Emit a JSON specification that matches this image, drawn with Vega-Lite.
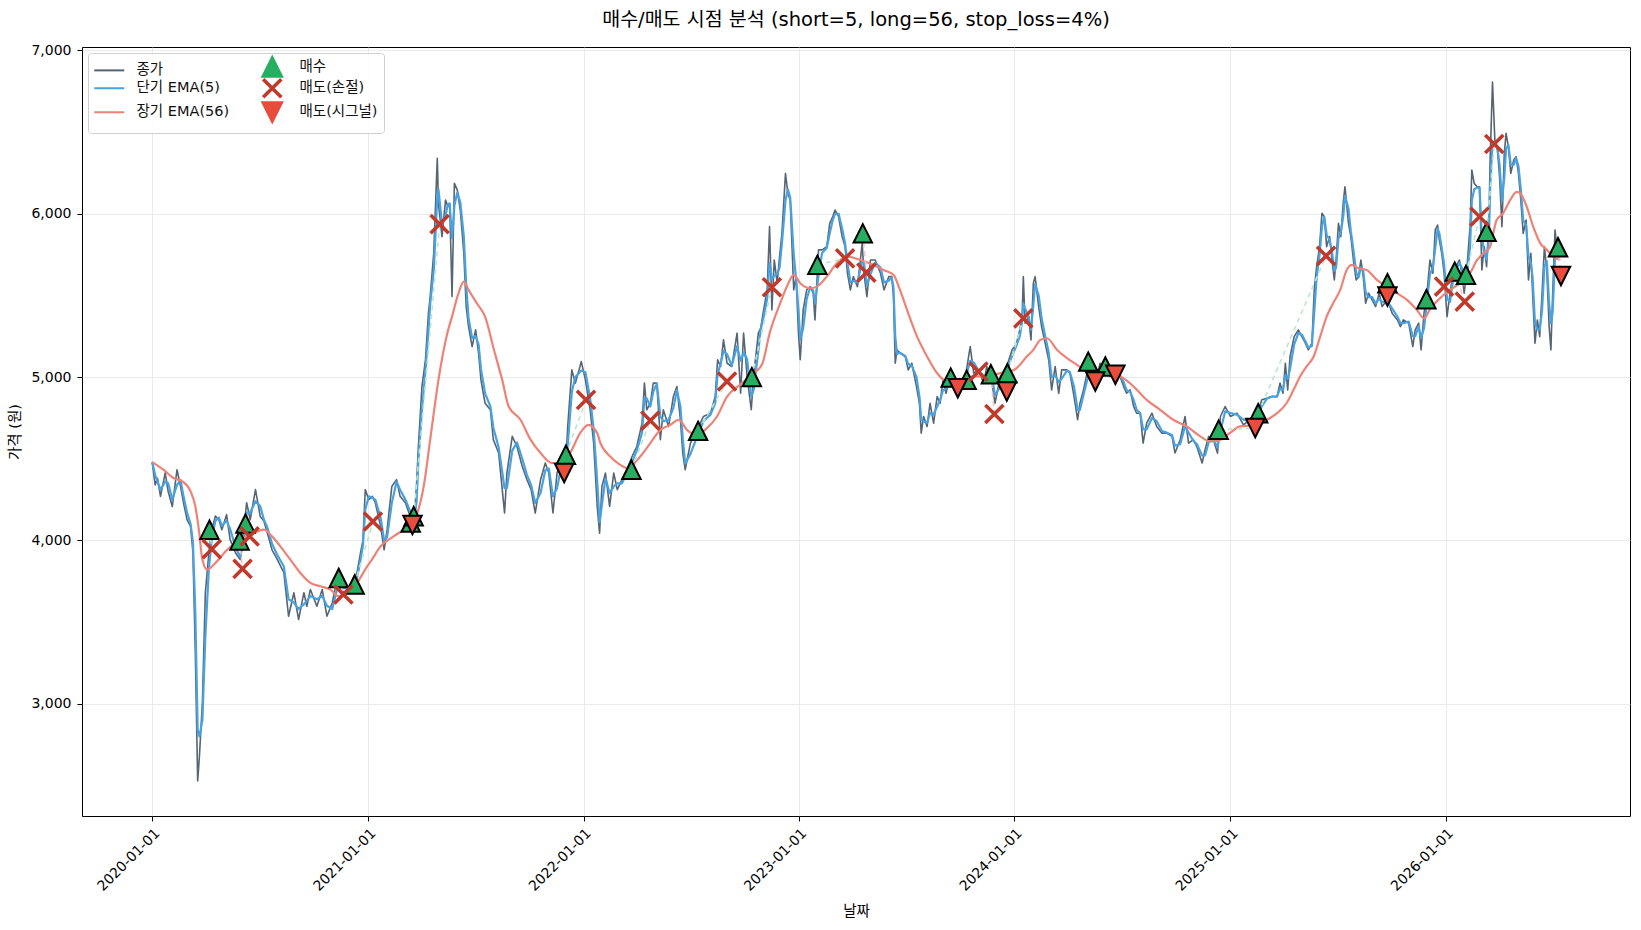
{
  "$schema": "https://vega.github.io/schema/vega-lite/v6.json",
  "width": 1548,
  "height": 769,
  "autosize": "none",
  "padding": {"left": 82, "top": 47, "right": 11, "bottom": 114},
  "background": "white",
  "title": {
    "text": "매수/매도 시점 분석 (short=5, long=56, stop_loss=4%)",
    "font": "DejaVu Sans, Noto Sans CJK KR",
    "fontSize": 19.5,
    "fontWeight": "normal",
    "color": "#000000",
    "anchor": "middle",
    "offset": 13
  },
  "config": {
    "view": {"stroke": "#000000", "strokeWidth": 1},
    "axis": {
      "domain": false,
      "labelFont": "DejaVu Sans, Noto Sans CJK KR",
      "labelFontSize": 14,
      "labelColor": "#000000",
      "titleFont": "DejaVu Sans, Noto Sans CJK KR",
      "titleFontSize": 14.5,
      "titleFontWeight": "normal",
      "titleColor": "#000000",
      "tickColor": "#000000",
      "tickSize": 5,
      "gridColor": "#e6e6e6",
      "gridWidth": 0.8
    }
  },
  "datasets": {
    "px": [
      {"d":"2020-01-01","c":4480,"e":4480},{"d":"2020-01-06","c":4340,"e":4400},{"d":"2020-01-10","c":4380,"e":4360},
      {"d":"2020-01-15","c":4270,"e":4310},{"d":"2020-01-23","c":4414,"e":4360},{"d":"2020-01-28","c":4300,"e":4350},
      {"d":"2020-02-04","c":4208,"e":4250},{"d":"2020-02-12","c":4433,"e":4340},{"d":"2020-02-18","c":4330,"e":4370},
      {"d":"2020-02-23","c":4231,"e":4270},{"d":"2020-02-29","c":4127,"e":4170},{"d":"2020-03-06","c":4086,"e":4100},
      {"d":"2020-03-10","c":3925,"e":3990},{"d":"2020-03-14","c":3313,"e":3560},{"d":"2020-03-18","c":2527,"e":2840},
      {"d":"2020-03-21","c":2680,"e":2800},{"d":"2020-03-26","c":3008,"e":2900},{"d":"2020-03-31","c":3680,"e":3410},
      {"d":"2020-04-06","c":3925,"e":3830},{"d":"2020-04-11","c":4066,"e":4010},{"d":"2020-04-17","c":4150,"e":4120},
      {"d":"2020-04-23","c":4127,"e":4140},{"d":"2020-04-28","c":4066,"e":4090},{"d":"2020-05-06","c":4158,"e":4120},
      {"d":"2020-05-12","c":4005,"e":4070},{"d":"2020-05-21","c":3925,"e":3960},{"d":"2020-05-29","c":3883,"e":3900},
      {"d":"2020-06-04","c":4066,"e":3990},{"d":"2020-06-09","c":4231,"e":4170},{"d":"2020-06-15","c":4127,"e":4170},
      {"d":"2020-06-24","c":4311,"e":4240},{"d":"2020-07-02","c":4147,"e":4210},{"d":"2020-07-08","c":4120,"e":4130},
      {"d":"2020-07-14","c":4047,"e":4080},{"d":"2020-07-22","c":3943,"e":3980},{"d":"2020-07-31","c":3883,"e":3910},
      {"d":"2020-08-11","c":3803,"e":3840},{"d":"2020-08-19","c":3536,"e":3640},{"d":"2020-08-28","c":3680,"e":3620},
      {"d":"2020-09-05","c":3516,"e":3580},{"d":"2020-09-14","c":3680,"e":3610},{"d":"2020-09-19","c":3597,"e":3630},
      {"d":"2020-09-25","c":3700,"e":3660},{"d":"2020-10-06","c":3597,"e":3640},{"d":"2020-10-15","c":3700,"e":3660},
      {"d":"2020-10-23","c":3536,"e":3600},{"d":"2020-11-01","c":3617,"e":3580},{"d":"2020-11-09","c":3760,"e":3700},
      {"d":"2020-11-20","c":3680,"e":3710},{"d":"2020-12-02","c":3720,"e":3700},{"d":"2020-12-13","c":3803,"e":3770},
      {"d":"2020-12-19","c":3925,"e":3880},{"d":"2020-12-23","c":4000,"e":3970},{"d":"2020-12-27","c":4311,"e":4190},
      {"d":"2021-01-02","c":4250,"e":4270},{"d":"2021-01-08","c":4270,"e":4260},{"d":"2021-01-13","c":4231,"e":4250},
      {"d":"2021-01-22","c":4086,"e":4140},{"d":"2021-01-28","c":3943,"e":4000},{"d":"2021-02-02","c":4066,"e":4020},
      {"d":"2021-02-10","c":4331,"e":4230},{"d":"2021-02-18","c":4372,"e":4360},{"d":"2021-02-24","c":4270,"e":4310},
      {"d":"2021-03-05","c":4231,"e":4250},{"d":"2021-03-13","c":4148,"e":4180},{"d":"2021-03-19","c":4066,"e":4100},
      {"d":"2021-03-24","c":4352,"e":4240},{"d":"2021-03-27","c":4575,"e":4490},{"d":"2021-04-02","c":4942,"e":4800},
      {"d":"2021-04-08","c":5106,"e":5040},{"d":"2021-04-13","c":5391,"e":5280},{"d":"2021-04-16","c":5493,"e":5450},
      {"d":"2021-04-22","c":5758,"e":5650},{"d":"2021-04-28","c":6339,"e":6100},{"d":"2021-04-30","c":6064,"e":6150},
      {"d":"2021-05-06","c":5860,"e":5940},{"d":"2021-05-12","c":6084,"e":5990},{"d":"2021-05-16","c":6043,"e":6060},
      {"d":"2021-05-19","c":6064,"e":6060},{"d":"2021-05-23","c":5493,"e":5850},{"d":"2021-05-27","c":6186,"e":6050},
      {"d":"2021-06-01","c":6145,"e":6130},{"d":"2021-06-06","c":6023,"e":6070},{"d":"2021-06-12","c":5758,"e":5860},
      {"d":"2021-06-16","c":5432,"e":5560},{"d":"2021-06-20","c":5309,"e":5360},{"d":"2021-06-26","c":5187,"e":5240},
      {"d":"2021-07-02","c":5289,"e":5250},{"d":"2021-07-07","c":5147,"e":5200},{"d":"2021-07-11","c":4983,"e":5050},
      {"d":"2021-07-18","c":4840,"e":4900},{"d":"2021-07-27","c":4800,"e":4820},{"d":"2021-08-01","c":4617,"e":4690},
      {"d":"2021-08-10","c":4535,"e":4570},{"d":"2021-08-20","c":4168,"e":4320},{"d":"2021-08-24","c":4413,"e":4320},
      {"d":"2021-09-02","c":4637,"e":4550},{"d":"2021-09-10","c":4575,"e":4600},{"d":"2021-09-19","c":4453,"e":4500},
      {"d":"2021-09-27","c":4372,"e":4400},{"d":"2021-10-04","c":4311,"e":4340},{"d":"2021-10-11","c":4168,"e":4230},
      {"d":"2021-10-20","c":4372,"e":4290},{"d":"2021-10-28","c":4474,"e":4430},{"d":"2021-11-03","c":4413,"e":4440},
      {"d":"2021-11-10","c":4168,"e":4270},{"d":"2021-11-17","c":4413,"e":4320},{"d":"2021-11-25","c":4514,"e":4470},
      {"d":"2021-12-01","c":4413,"e":4450},{"d":"2021-12-05","c":4698,"e":4580},{"d":"2021-12-12","c":5044,"e":4910},
      {"d":"2021-12-18","c":4963,"e":5000},{"d":"2021-12-28","c":5095,"e":5040},{"d":"2022-01-04","c":4983,"e":5030},
      {"d":"2022-01-12","c":4800,"e":4870},{"d":"2022-01-18","c":4596,"e":4680},{"d":"2022-01-24","c":4209,"e":4360},
      {"d":"2022-01-28","c":4045,"e":4110},{"d":"2022-02-01","c":4331,"e":4220},{"d":"2022-02-07","c":4413,"e":4380},
      {"d":"2022-02-14","c":4209,"e":4290},{"d":"2022-02-21","c":4413,"e":4330},{"d":"2022-02-27","c":4311,"e":4350},
      {"d":"2022-03-07","c":4372,"e":4350},{"d":"2022-03-15","c":4433,"e":4410},{"d":"2022-03-24","c":4514,"e":4480},
      {"d":"2022-04-01","c":4575,"e":4550},{"d":"2022-04-10","c":4718,"e":4660},{"d":"2022-04-14","c":4963,"e":4870},
      {"d":"2022-04-18","c":4800,"e":4870},{"d":"2022-04-24","c":4840,"e":4820},{"d":"2022-04-29","c":4963,"e":4910},
      {"d":"2022-05-05","c":4963,"e":4960},{"d":"2022-05-11","c":4617,"e":4760},{"d":"2022-05-16","c":4800,"e":4730},
      {"d":"2022-05-25","c":4698,"e":4740},{"d":"2022-06-02","c":4881,"e":4810},{"d":"2022-06-08","c":4942,"e":4920},
      {"d":"2022-06-14","c":4739,"e":4820},{"d":"2022-06-18","c":4535,"e":4620},{"d":"2022-06-22","c":4433,"e":4470},
      {"d":"2022-07-01","c":4596,"e":4530},{"d":"2022-07-15","c":4698,"e":4660},{"d":"2022-07-23","c":4759,"e":4730},
      {"d":"2022-08-04","c":4779,"e":4770},{"d":"2022-08-12","c":4881,"e":4840},{"d":"2022-08-16","c":5106,"e":5020},
      {"d":"2022-08-21","c":5065,"e":5080},{"d":"2022-08-26","c":5228,"e":5160},{"d":"2022-09-01","c":5085,"e":5140},
      {"d":"2022-09-09","c":5065,"e":5070},{"d":"2022-09-18","c":5269,"e":5190},{"d":"2022-09-24","c":4901,"e":5100},
      {"d":"2022-09-29","c":5269,"e":5150},{"d":"2022-10-05","c":5004,"e":5110},{"d":"2022-10-12","c":4800,"e":4880},
      {"d":"2022-10-16","c":5004,"e":4920},{"d":"2022-10-24","c":5269,"e":5160},{"d":"2022-10-28","c":5300,"e":5290},
      {"d":"2022-11-02","c":5411,"e":5370},{"d":"2022-11-08","c":5534,"e":5480},{"d":"2022-11-12","c":5921,"e":5700},
      {"d":"2022-11-16","c":5411,"e":5600},{"d":"2022-11-20","c":5717,"e":5620},{"d":"2022-11-25","c":5575,"e":5630},
      {"d":"2022-11-29","c":5738,"e":5670},{"d":"2022-12-03","c":5880,"e":5820},{"d":"2022-12-09","c":6247,"e":6080},
      {"d":"2022-12-13","c":6125,"e":6150},{"d":"2022-12-17","c":6084,"e":6100},{"d":"2022-12-23","c":5534,"e":5750},
      {"d":"2022-12-27","c":5615,"e":5600},{"d":"2022-12-31","c":5269,"e":5410},{"d":"2023-01-03","c":5106,"e":5230},
      {"d":"2023-01-08","c":5411,"e":5300},{"d":"2023-01-14","c":5534,"e":5480},{"d":"2023-01-20","c":5554,"e":5550},
      {"d":"2023-01-25","c":5514,"e":5530},{"d":"2023-01-28","c":5350,"e":5450},{"d":"2023-02-03","c":5779,"e":5620},
      {"d":"2023-02-09","c":5779,"e":5760},{"d":"2023-02-17","c":5799,"e":5790},{"d":"2023-02-22","c":5941,"e":5880},
      {"d":"2023-02-27","c":5982,"e":5960},{"d":"2023-03-03","c":6023,"e":6000},{"d":"2023-03-09","c":5982,"e":6000},
      {"d":"2023-03-15","c":5860,"e":5910},{"d":"2023-03-20","c":5799,"e":5820},{"d":"2023-03-24","c":5636,"e":5700},
      {"d":"2023-03-29","c":5534,"e":5580},{"d":"2023-04-03","c":5615,"e":5590},{"d":"2023-04-10","c":5554,"e":5580},
      {"d":"2023-04-18","c":5819,"e":5710},{"d":"2023-04-21","c":5636,"e":5700},{"d":"2023-04-26","c":5493,"e":5560},
      {"d":"2023-05-02","c":5717,"e":5630},{"d":"2023-05-10","c":5717,"e":5700},{"d":"2023-05-19","c":5636,"e":5670},
      {"d":"2023-05-25","c":5534,"e":5580},{"d":"2023-06-02","c":5615,"e":5590},{"d":"2023-06-07","c":5615,"e":5610},
      {"d":"2023-06-10","c":5493,"e":5550},{"d":"2023-06-13","c":5085,"e":5250},{"d":"2023-06-16","c":5167,"e":5140},
      {"d":"2023-06-21","c":5147,"e":5150},{"d":"2023-06-30","c":5126,"e":5130},{"d":"2023-07-05","c":5044,"e":5080},
      {"d":"2023-07-11","c":5085,"e":5070},{"d":"2023-07-19","c":4942,"e":5000},{"d":"2023-07-24","c":4840,"e":4880},
      {"d":"2023-07-27","c":4657,"e":4740},{"d":"2023-07-31","c":4759,"e":4730},{"d":"2023-08-06","c":4698,"e":4720},
      {"d":"2023-08-11","c":4840,"e":4780},{"d":"2023-08-17","c":4718,"e":4770},{"d":"2023-08-23","c":4881,"e":4820},
      {"d":"2023-08-28","c":4840,"e":4860},{"d":"2023-09-02","c":4983,"e":4920},{"d":"2023-09-07","c":4901,"e":4930},
      {"d":"2023-09-14","c":5004,"e":4960},{"d":"2023-09-23","c":4963,"e":4980},{"d":"2023-10-01","c":4983,"e":4980},
      {"d":"2023-10-10","c":5004,"e":4990},{"d":"2023-10-18","c":5187,"e":5100},{"d":"2023-10-24","c":5024,"e":5090},
      {"d":"2023-11-01","c":5044,"e":5040},{"d":"2023-11-10","c":4963,"e":5000},{"d":"2023-11-15","c":5065,"e":5020},
      {"d":"2023-11-24","c":4963,"e":5000},{"d":"2023-11-29","c":4840,"e":4890},{"d":"2023-12-08","c":5004,"e":4940},
      {"d":"2023-12-19","c":5065,"e":5040},{"d":"2023-12-28","c":5167,"e":5130},{"d":"2024-01-04","c":5200,"e":5190},
      {"d":"2024-01-10","c":5289,"e":5250},{"d":"2024-01-14","c":5370,"e":5340},{"d":"2024-01-16","c":5615,"e":5450},
      {"d":"2024-01-19","c":5330,"e":5420},{"d":"2024-01-25","c":5370,"e":5370},{"d":"2024-01-29","c":5228,"e":5290},
      {"d":"2024-02-02","c":5575,"e":5440},{"d":"2024-02-05","c":5615,"e":5570},{"d":"2024-02-11","c":5432,"e":5500},
      {"d":"2024-02-16","c":5309,"e":5360},{"d":"2024-02-22","c":5208,"e":5250},{"d":"2024-02-28","c":5106,"e":5150},
      {"d":"2024-03-04","c":4922,"e":5000},{"d":"2024-03-10","c":5065,"e":5010},{"d":"2024-03-16","c":4901,"e":4970},
      {"d":"2024-03-21","c":5044,"e":4990},{"d":"2024-03-30","c":5044,"e":5040},{"d":"2024-04-04","c":5024,"e":5030},
      {"d":"2024-04-11","c":4881,"e":4940},{"d":"2024-04-17","c":4739,"e":4800},{"d":"2024-04-21","c":4840,"e":4800},
      {"d":"2024-04-27","c":4922,"e":4890},{"d":"2024-05-03","c":5024,"e":4980},{"d":"2024-05-11","c":5065,"e":5050},
      {"d":"2024-05-20","c":5004,"e":5030},{"d":"2024-05-25","c":5085,"e":5050},{"d":"2024-06-03","c":5044,"e":5060},
      {"d":"2024-06-11","c":5004,"e":5020},{"d":"2024-06-20","c":5024,"e":5020},{"d":"2024-06-28","c":5004,"e":5010},
      {"d":"2024-07-04","c":4942,"e":4970},{"d":"2024-07-09","c":4901,"e":4920},{"d":"2024-07-15","c":4922,"e":4910},
      {"d":"2024-07-21","c":4820,"e":4860},{"d":"2024-07-26","c":4779,"e":4800},{"d":"2024-08-01","c":4779,"e":4780},
      {"d":"2024-08-06","c":4596,"e":4680},{"d":"2024-08-12","c":4718,"e":4680},{"d":"2024-08-21","c":4779,"e":4750},
      {"d":"2024-08-29","c":4698,"e":4730},{"d":"2024-09-07","c":4657,"e":4670},{"d":"2024-09-15","c":4657,"e":4660},
      {"d":"2024-09-24","c":4637,"e":4645},{"d":"2024-09-29","c":4535,"e":4580},{"d":"2024-10-08","c":4617,"e":4590},
      {"d":"2024-10-16","c":4759,"e":4700},{"d":"2024-10-22","c":4596,"e":4660},{"d":"2024-10-30","c":4617,"e":4610},
      {"d":"2024-11-05","c":4575,"e":4590},{"d":"2024-11-14","c":4474,"e":4520},{"d":"2024-11-19","c":4555,"e":4520},
      {"d":"2024-11-25","c":4637,"e":4600},{"d":"2024-12-03","c":4617,"e":4620},{"d":"2024-12-10","c":4535,"e":4570},
      {"d":"2024-12-15","c":4759,"e":4670},{"d":"2024-12-23","c":4820,"e":4790},{"d":"2025-01-01","c":4759,"e":4780},
      {"d":"2025-01-12","c":4779,"e":4770},{"d":"2025-01-23","c":4708,"e":4740},{"d":"2025-02-03","c":4739,"e":4730},
      {"d":"2025-02-15","c":4759,"e":4750},{"d":"2025-02-23","c":4861,"e":4820},{"d":"2025-03-04","c":4871,"e":4870},
      {"d":"2025-03-12","c":4881,"e":4880},{"d":"2025-03-21","c":4881,"e":4880},{"d":"2025-03-26","c":4963,"e":4930},
      {"d":"2025-03-31","c":4901,"e":4920},{"d":"2025-04-04","c":5085,"e":5010},{"d":"2025-04-08","c":4922,"e":4990},
      {"d":"2025-04-12","c":5126,"e":5050},{"d":"2025-04-19","c":5248,"e":5200},{"d":"2025-04-26","c":5289,"e":5270},
      {"d":"2025-05-02","c":5248,"e":5260},{"d":"2025-05-08","c":5208,"e":5220},{"d":"2025-05-13","c":5167,"e":5180},
      {"d":"2025-05-19","c":5208,"e":5190},{"d":"2025-05-23","c":5534,"e":5400},{"d":"2025-05-27","c":5676,"e":5610},
      {"d":"2025-06-01","c":5799,"e":5750},{"d":"2025-06-05","c":6003,"e":5920},{"d":"2025-06-09","c":5982,"e":5980},
      {"d":"2025-06-13","c":5799,"e":5870},{"d":"2025-06-18","c":5860,"e":5840},{"d":"2025-06-22","c":5717,"e":5770},
      {"d":"2025-06-26","c":5595,"e":5650},{"d":"2025-06-29","c":5717,"e":5670},{"d":"2025-07-03","c":5941,"e":5850},
      {"d":"2025-07-07","c":5860,"e":5890},{"d":"2025-07-11","c":6064,"e":5980},{"d":"2025-07-14","c":6165,"e":6110},
      {"d":"2025-07-20","c":5941,"e":6030},{"d":"2025-07-24","c":5860,"e":5890},{"d":"2025-07-29","c":5697,"e":5760},
      {"d":"2025-08-02","c":5595,"e":5640},{"d":"2025-08-06","c":5615,"e":5610},{"d":"2025-08-10","c":5717,"e":5670},
      {"d":"2025-08-14","c":5615,"e":5650},{"d":"2025-08-18","c":5452,"e":5520},{"d":"2025-08-23","c":5514,"e":5490},
      {"d":"2025-08-29","c":5473,"e":5490},{"d":"2025-09-04","c":5432,"e":5450},{"d":"2025-09-10","c":5514,"e":5480},
      {"d":"2025-09-15","c":5432,"e":5460},{"d":"2025-09-24","c":5473,"e":5460},{"d":"2025-10-02","c":5391,"e":5420},
      {"d":"2025-10-11","c":5350,"e":5370},{"d":"2025-10-16","c":5309,"e":5330},{"d":"2025-10-21","c":5350,"e":5330},
      {"d":"2025-10-30","c":5330,"e":5340},{"d":"2025-11-06","c":5187,"e":5250},{"d":"2025-11-10","c":5289,"e":5250},
      {"d":"2025-11-16","c":5330,"e":5310},{"d":"2025-11-20","c":5167,"e":5240},{"d":"2025-11-25","c":5391,"e":5300},
      {"d":"2025-11-30","c":5514,"e":5460},{"d":"2025-12-05","c":5717,"e":5630},{"d":"2025-12-10","c":5636,"e":5670},
      {"d":"2025-12-14","c":5901,"e":5790},{"d":"2025-12-18","c":5931,"e":5910},{"d":"2025-12-21","c":5839,"e":5880},
      {"d":"2025-12-25","c":5758,"e":5790},{"d":"2025-12-29","c":5636,"e":5690},{"d":"2026-01-03","c":5370,"e":5480},
      {"d":"2026-01-08","c":5514,"e":5460},{"d":"2026-01-13","c":5636,"e":5590},{"d":"2026-01-18","c":5676,"e":5660},
      {"d":"2026-01-24","c":5717,"e":5700},{"d":"2026-01-28","c":5636,"e":5670},{"d":"2026-02-01","c":5514,"e":5560},
      {"d":"2026-02-05","c":5636,"e":5590},{"d":"2026-02-11","c":5921,"e":5800},{"d":"2026-02-14","c":6268,"e":6080},
      {"d":"2026-02-18","c":6186,"e":6150},{"d":"2026-02-23","c":6165,"e":6160},{"d":"2026-02-27","c":6165,"e":6160},
      {"d":"2026-03-03","c":5656,"e":5860},{"d":"2026-03-07","c":5799,"e":5760},{"d":"2026-03-11","c":5676,"e":5720},
      {"d":"2026-03-15","c":5962,"e":5850},{"d":"2026-03-17","c":6329,"e":6150},{"d":"2026-03-21","c":6807,"e":6430},
      {"d":"2026-03-25","c":6451,"e":6420},{"d":"2026-03-29","c":6410,"e":6410},{"d":"2026-04-02","c":6227,"e":6300},
      {"d":"2026-04-06","c":5921,"e":6080},{"d":"2026-04-10","c":6369,"e":6220},{"d":"2026-04-13","c":6492,"e":6400},
      {"d":"2026-04-17","c":6410,"e":6420},{"d":"2026-04-21","c":6247,"e":6300},{"d":"2026-04-26","c":6329,"e":6300},
      {"d":"2026-04-30","c":6349,"e":6340},{"d":"2026-05-04","c":6247,"e":6290},{"d":"2026-05-08","c":6084,"e":6150},
      {"d":"2026-05-12","c":5880,"e":5960},{"d":"2026-05-17","c":5962,"e":5930},{"d":"2026-05-21","c":5595,"e":5740},
      {"d":"2026-05-25","c":5758,"e":5700},{"d":"2026-05-28","c":5514,"e":5610},{"d":"2026-06-01","c":5208,"e":5330},
      {"d":"2026-06-05","c":5350,"e":5290},{"d":"2026-06-09","c":5248,"e":5290},{"d":"2026-06-13","c":5514,"e":5410},
      {"d":"2026-06-17","c":5799,"e":5680},{"d":"2026-06-21","c":5656,"e":5710},{"d":"2026-06-25","c":5309,"e":5450},
      {"d":"2026-06-28","c":5167,"e":5330},{"d":"2026-07-01","c":5514,"e":5400},{"d":"2026-07-05","c":5901,"e":5740},
      {"d":"2026-07-09","c":5758,"e":5810},{"d":"2026-07-13","c":5717,"e":5740}
    ],
    "lg": [
      {"d":"2020-01-01","p":4480},{"d":"2020-01-20","p":4433},{"d":"2020-02-06","p":4382},{"d":"2020-02-21","p":4362},
      {"d":"2020-03-06","p":4300},{"d":"2020-03-14","p":4209},{"d":"2020-03-20","p":4066},{"d":"2020-03-26","p":3883},
      {"d":"2020-04-03","p":3821},{"d":"2020-04-17","p":3862},{"d":"2020-05-07","p":3943},{"d":"2020-05-29","p":4005},
      {"d":"2020-06-21","p":4045},{"d":"2020-07-08","p":4066},{"d":"2020-07-22","p":4025},{"d":"2020-08-05","p":3964},
      {"d":"2020-08-22","p":3883},{"d":"2020-09-08","p":3801},{"d":"2020-09-25","p":3740},{"d":"2020-10-12","p":3720},
      {"d":"2020-10-29","p":3699},{"d":"2020-11-12","p":3658},{"d":"2020-11-26","p":3679},{"d":"2020-12-13","p":3740},
      {"d":"2020-12-30","p":3840},{"d":"2021-01-05","p":3870},{"d":"2021-01-22","p":3964},{"d":"2021-02-13","p":4025},
      {"d":"2021-03-08","p":4086},{"d":"2021-03-25","p":4168},{"d":"2021-04-05","p":4331},{"d":"2021-04-16","p":4617},
      {"d":"2021-04-30","p":4983},{"d":"2021-05-15","p":5269},{"d":"2021-05-23","p":5370},{"d":"2021-06-03","p":5514},
      {"d":"2021-06-12","p":5585},{"d":"2021-06-20","p":5534},{"d":"2021-07-04","p":5452},{"d":"2021-07-18","p":5370},
      {"d":"2021-08-02","p":5167},{"d":"2021-08-16","p":4983},{"d":"2021-08-27","p":4820},{"d":"2021-09-16","p":4739},
      {"d":"2021-10-03","p":4617},{"d":"2021-10-20","p":4535},{"d":"2021-11-08","p":4474},{"d":"2021-11-23","p":4474},
      {"d":"2021-12-09","p":4535},{"d":"2021-12-26","p":4657},{"d":"2022-01-09","p":4708},{"d":"2022-01-24","p":4657},
      {"d":"2022-01-29","p":4600},{"d":"2022-02-15","p":4514},{"d":"2022-03-04","p":4463},{"d":"2022-03-16","p":4443},
      {"d":"2022-04-07","p":4514},{"d":"2022-04-24","p":4596},{"d":"2022-05-11","p":4677},{"d":"2022-05-28","p":4708},
      {"d":"2022-06-11","p":4739},{"d":"2022-06-25","p":4677},{"d":"2022-07-12","p":4647},{"d":"2022-07-29","p":4688},
      {"d":"2022-08-15","p":4759},{"d":"2022-09-01","p":4881},{"d":"2022-09-23","p":4953},{"d":"2022-10-16","p":5024},
      {"d":"2022-10-30","p":5075},{"d":"2022-11-13","p":5280},{"d":"2022-11-30","p":5452},{"d":"2022-12-14","p":5575},
      {"d":"2022-12-23","p":5626},{"d":"2023-01-03","p":5575},{"d":"2023-01-20","p":5544},{"d":"2023-01-31","p":5554},
      {"d":"2023-02-17","p":5615},{"d":"2023-03-06","p":5697},{"d":"2023-03-23","p":5738},{"d":"2023-04-15","p":5717},
      {"d":"2023-05-07","p":5687},{"d":"2023-05-24","p":5656},{"d":"2023-06-10","p":5626},{"d":"2023-06-21","p":5534},
      {"d":"2023-07-03","p":5411},{"d":"2023-07-20","p":5248},{"d":"2023-08-06","p":5126},{"d":"2023-08-23","p":5024},
      {"d":"2023-09-09","p":4973},{"d":"2023-10-01","p":4983},{"d":"2023-10-24","p":5004},{"d":"2023-11-15","p":5004},
      {"d":"2023-12-08","p":5024},{"d":"2024-01-01","p":5045},{"d":"2024-01-22","p":5126},{"d":"2024-02-02","p":5167},
      {"d":"2024-02-14","p":5228},{"d":"2024-02-25","p":5238},{"d":"2024-03-13","p":5167},{"d":"2024-03-30","p":5116},
      {"d":"2024-04-16","p":5075},{"d":"2024-05-03","p":5034},{"d":"2024-05-20","p":5014},{"d":"2024-06-11","p":5014},
      {"d":"2024-06-28","p":5004},{"d":"2024-07-21","p":4942},{"d":"2024-08-12","p":4861},{"d":"2024-09-04","p":4800},
      {"d":"2024-09-26","p":4739},{"d":"2024-10-19","p":4698},{"d":"2024-11-11","p":4637},{"d":"2024-11-28","p":4606},
      {"d":"2024-12-15","p":4617},{"d":"2025-01-01","p":4660},{"d":"2025-01-17","p":4698},{"d":"2025-02-09","p":4705},
      {"d":"2025-03-04","p":4739},{"d":"2025-03-21","p":4779},{"d":"2025-04-06","p":4840},{"d":"2025-04-18","p":4922},
      {"d":"2025-04-29","p":5004},{"d":"2025-05-10","p":5065},{"d":"2025-05-22","p":5126},{"d":"2025-06-02","p":5248},
      {"d":"2025-06-13","p":5370},{"d":"2025-06-24","p":5452},{"d":"2025-07-06","p":5534},{"d":"2025-07-17","p":5656},
      {"d":"2025-07-26","p":5687},{"d":"2025-08-06","p":5666},{"d":"2025-08-20","p":5656},{"d":"2025-09-06","p":5595},
      {"d":"2025-09-23","p":5554},{"d":"2025-10-10","p":5514},{"d":"2025-10-27","p":5473},{"d":"2025-11-13","p":5411},
      {"d":"2025-11-25","p":5360},{"d":"2025-12-06","p":5421},{"d":"2025-12-22","p":5483},{"d":"2026-01-08","p":5534},
      {"d":"2026-01-25","p":5575},{"d":"2026-02-11","p":5636},{"d":"2026-02-23","p":5717},{"d":"2026-03-06","p":5758},
      {"d":"2026-03-17","p":5799},{"d":"2026-03-28","p":5962},{"d":"2026-04-08","p":6003},{"d":"2026-04-20","p":6084},
      {"d":"2026-05-01","p":6134},{"d":"2026-05-07","p":6125},{"d":"2026-05-18","p":6043},{"d":"2026-05-29","p":5921},
      {"d":"2026-06-10","p":5819},{"d":"2026-06-21","p":5779},{"d":"2026-07-02","p":5738},{"d":"2026-07-13","p":5717}
    ],
    "sig": [
      {"d":"2020-04-07","p":4066,"k":"b"},{"d":"2020-04-11","p":3947,"k":"x"},
      {"d":"2020-05-28","p":4000,"k":"b"},{"d":"2020-06-02","p":3826,"k":"x"},
      {"d":"2020-06-07","p":4103,"k":"b"},{"d":"2020-06-14","p":4025,"k":"x"},
      {"d":"2020-11-12","p":3770,"k":"b"},{"d":"2020-11-20","p":3669,"k":"x"},
      {"d":"2020-12-09","p":3730,"k":"b"},{"d":"2021-01-09","p":4116,"k":"x"},
      {"d":"2021-03-14","p":4110,"k":"b"},{"d":"2021-03-17","p":4095,"k":"s"},
      {"d":"2021-03-19","p":4148,"k":"b"},{"d":"2021-05-02","p":5937,"k":"x"},
      {"d":"2021-11-29","p":4413,"k":"s"},
      {"d":"2021-12-02","p":4525,"k":"b"},{"d":"2022-01-05","p":4861,"k":"x"},
      {"d":"2022-03-23","p":4433,"k":"b"},{"d":"2022-04-24","p":4734,"k":"x"},
      {"d":"2022-07-14","p":4671,"k":"b"},{"d":"2022-09-01","p":4973,"k":"x"},
      {"d":"2022-10-13","p":5000,"k":"b"},{"d":"2022-11-16","p":5550,"k":"x"},
      {"d":"2023-02-01","p":5687,"k":"b"},{"d":"2023-03-20","p":5727,"k":"x"},
      {"d":"2023-04-19","p":5880,"k":"b"},{"d":"2023-04-25","p":5640,"k":"x"},
      {"d":"2023-09-15","p":4997,"k":"b"},{"d":"2023-09-27","p":4932,"k":"s"},
      {"d":"2023-10-12","p":4983,"k":"b"},{"d":"2023-11-01","p":5034,"k":"x"},
      {"d":"2023-11-22","p":5018,"k":"b"},{"d":"2023-11-28","p":4774,"k":"x"},
      {"d":"2023-12-19","p":4912,"k":"s"},
      {"d":"2023-12-20","p":5024,"k":"b"},{"d":"2024-01-16","p":5360,"k":"x"},
      {"d":"2024-05-05","p":5095,"k":"b"},{"d":"2024-05-17","p":4973,"k":"s"},
      {"d":"2024-06-03","p":5065,"k":"b"},{"d":"2024-06-20","p":5014,"k":"s"},
      {"d":"2024-12-12","p":4678,"k":"b"},{"d":"2025-02-12","p":4688,"k":"s"},
      {"d":"2025-02-17","p":4779,"k":"b"},{"d":"2025-06-12","p":5742,"k":"x"},
      {"d":"2025-09-24","p":5575,"k":"b"},{"d":"2025-09-24","p":5493,"k":"s"},
      {"d":"2025-11-29","p":5477,"k":"b"},{"d":"2025-12-29","p":5554,"k":"x"},
      {"d":"2026-01-16","p":5646,"k":"b"},{"d":"2026-02-02","p":5462,"k":"x"},
      {"d":"2026-02-04","p":5626,"k":"b"},{"d":"2026-02-27","p":5982,"k":"x"},
      {"d":"2026-03-11","p":5890,"k":"b"},{"d":"2026-03-24","p":6427,"k":"x"},
      {"d":"2026-07-10","p":5795,"k":"b"},{"d":"2026-07-15","p":5619,"k":"s"}
    ],
    "tr": [
      {"t":1,"r":"l","d":"2020-04-07","p":4066},{"t":1,"r":"l","d":"2020-04-11","p":3947},
      {"t":2,"r":"l","d":"2020-05-28","p":4000},{"t":2,"r":"l","d":"2020-06-02","p":3826},
      {"t":3,"r":"l","d":"2020-06-07","p":4103},{"t":3,"r":"l","d":"2020-06-14","p":4025},
      {"t":4,"r":"l","d":"2020-11-12","p":3770},{"t":4,"r":"l","d":"2020-11-20","p":3669},
      {"t":5,"r":"w","d":"2020-12-09","p":3730},{"t":5,"r":"w","d":"2021-01-09","p":4116},
      {"t":6,"r":"l","d":"2021-03-14","p":4110},{"t":6,"r":"l","d":"2021-03-17","p":4095},
      {"t":7,"r":"w","d":"2021-03-19","p":4148},{"t":7,"r":"w","d":"2021-05-02","p":5937},
      {"t":8,"r":"w","d":"2021-12-02","p":4525},{"t":8,"r":"w","d":"2022-01-05","p":4861},
      {"t":9,"r":"w","d":"2022-03-23","p":4433},{"t":9,"r":"w","d":"2022-04-24","p":4734},
      {"t":10,"r":"w","d":"2022-07-14","p":4671},{"t":10,"r":"w","d":"2022-09-01","p":4973},
      {"t":11,"r":"w","d":"2022-10-13","p":5000},{"t":11,"r":"w","d":"2022-11-16","p":5550},
      {"t":12,"r":"w","d":"2023-02-01","p":5687},{"t":12,"r":"w","d":"2023-03-20","p":5727},
      {"t":13,"r":"l","d":"2023-04-19","p":5880},{"t":13,"r":"l","d":"2023-04-25","p":5640},
      {"t":14,"r":"l","d":"2023-09-15","p":4997},{"t":14,"r":"l","d":"2023-09-27","p":4932},
      {"t":15,"r":"w","d":"2023-10-12","p":4983},{"t":15,"r":"w","d":"2023-11-01","p":5034},
      {"t":16,"r":"l","d":"2023-11-22","p":5018},{"t":16,"r":"l","d":"2023-11-28","p":4774},
      {"t":17,"r":"w","d":"2023-12-20","p":5024},{"t":17,"r":"w","d":"2024-01-16","p":5360},
      {"t":18,"r":"l","d":"2024-05-05","p":5095},{"t":18,"r":"l","d":"2024-05-17","p":4973},
      {"t":19,"r":"l","d":"2024-06-03","p":5065},{"t":19,"r":"l","d":"2024-06-20","p":5014},
      {"t":20,"r":"w","d":"2024-12-12","p":4678},{"t":20,"r":"w","d":"2025-02-12","p":4688},
      {"t":21,"r":"w","d":"2025-02-17","p":4779},{"t":21,"r":"w","d":"2025-06-12","p":5742},
      {"t":22,"r":"w","d":"2025-11-29","p":5477},{"t":22,"r":"w","d":"2025-12-29","p":5554},
      {"t":23,"r":"l","d":"2026-01-16","p":5646},{"t":23,"r":"l","d":"2026-02-02","p":5462},
      {"t":24,"r":"w","d":"2026-02-04","p":5626},{"t":24,"r":"w","d":"2026-02-27","p":5982},
      {"t":25,"r":"w","d":"2026-03-11","p":5890},{"t":25,"r":"w","d":"2026-03-24","p":6427},
      {"t":26,"r":"l","d":"2026-07-10","p":5795},{"t":26,"r":"l","d":"2026-07-15","p":5619}
    ]
  },
  "encoding": {
    "x": {
      "field": "d",
      "type": "temporal",
      "title": "날짜",
      "scale": {
        "type": "utc",
        "domain": [
          {"year": 2019, "month": 9, "date": 4, "utc": true},
          {"year": 2026, "month": 11, "date": 9, "utc": true}
        ]
      },
      "axis": {
        "values": [
          {"year": 2020, "month": 1, "date": 1, "utc": true},
          {"year": 2021, "month": 1, "date": 1, "utc": true},
          {"year": 2022, "month": 1, "date": 1, "utc": true},
          {"year": 2023, "month": 1, "date": 1, "utc": true},
          {"year": 2024, "month": 1, "date": 1, "utc": true},
          {"year": 2025, "month": 1, "date": 1, "utc": true},
          {"year": 2026, "month": 1, "date": 1, "utc": true}
        ],
        "format": "%Y-%m-%d",
        "labelAngle": -45,
        "labelAlign": "right",
        "labelBaseline": "top",
        "labelPadding": 5,
        "titlePadding": 11,
        "grid": true
      }
    },
    "y": {
      "field": "p",
      "type": "quantitative",
      "title": "가격 (원)",
      "scale": {"domain": [2313, 7021], "nice": false, "zero": false},
      "axis": {
        "values": [3000, 4000, 5000, 6000, 7000],
        "format": ",d",
        "labelPadding": 6,
        "titlePadding": 8,
        "grid": true
      }
    }
  },
  "layer": [
    {
      "data": {"name": "px"},
      "transform": [{"fold": ["c"], "as": ["k", "p"]}],
      "mark": {"type": "line", "strokeWidth": 1.6, "strokeJoin": "round"},
      "encoding": {
        "color": {
          "datum": "종가",
          "scale": {
            "domain": ["종가", "단기 EMA(5)", "장기 EMA(56)", "매수", "매도(손절)", "매도(시그널)"],
            "range": ["#566573", "#48a2df", "#ee8276", "#27ae60", "#c0392b", "#e74c3c"]
          },
          "legend": {
            "title": null,
            "orient": "top-left",
            "offset": 6,
            "columns": 2,
            "columnPadding": 26,
            "rowPadding": -10.5,
            "symbolSize": 400,
            "labelOffset": 20,
            "labelFont": "DejaVu Sans, Noto Sans CJK KR",
            "labelFontSize": 14.5,
            "labelColor": "#111111",
            "padding": 6,
            "symbolOffset": 8,
            "fillColor": "rgba(255,255,255,0.85)",
            "strokeColor": "#d0d0d0",
            "cornerRadius": 3,
            "encoding": {
              "symbols": {
                "shape": {"value": {"expr": "datum.value === '매수' ? 'M0,-1L1,1L-1,1Z' : datum.value === '매도(시그널)' ? 'M0,1L1,-1L-1,-1Z' : datum.value === '매도(손절)' ? 'M-1,-1L1,1M1,-1L-1,1' : 'M-1.5,0L1.5,0'"}},
                "fill": {"value": {"expr": "datum.value === '매수' ? '#27ae60' : datum.value === '매도(시그널)' ? '#e74c3c' : 'transparent'"}},
                "stroke": {"value": {"expr": "(datum.value === '매수' || datum.value === '매도(시그널)') ? '#000000' : datum.value === '매도(손절)' ? '#c0392b' : datum.value === '종가' ? '#566573' : datum.value === '단기 EMA(5)' ? '#48a2df' : '#ee8276'"}},
                "strokeWidth": {"value": {"expr": "datum.value === '매도(손절)' ? 3.5 : 2"}},
                "size": {"value": {"expr": "datum.value === '매도(손절)' ? 330 : 400"}},
                "opacity": {"value": 1}
              }
            }
          }
        }
      }
    },
    {
      "data": {"name": "px"},
      "transform": [{"fold": ["e"], "as": ["k", "p"]}],
      "mark": {"type": "line", "strokeWidth": 2.2, "strokeJoin": "round"},
      "encoding": {"color": {"datum": "단기 EMA(5)"}}
    },
    {
      "data": {"name": "lg"},
      "mark": {"type": "line", "strokeWidth": 2.2, "strokeJoin": "round", "interpolate": "monotone"},
      "encoding": {"color": {"datum": "장기 EMA(56)"}}
    },
    {
      "data": {"name": "tr"},
      "transform": [{"filter": "datum.r === 'w'"}],
      "mark": {"type": "line", "color": "#bde6cc", "strokeWidth": 1.6, "strokeDash": [5, 4]},
      "encoding": {"detail": {"field": "t", "type": "nominal"}}
    },
    {
      "data": {"name": "tr"},
      "transform": [{"filter": "datum.r === 'l'"}],
      "mark": {"type": "line", "color": "#f5c4bd", "strokeWidth": 1.6, "strokeDash": [5, 4]},
      "encoding": {"detail": {"field": "t", "type": "nominal"}}
    },
    {
      "data": {"name": "sig"},
      "transform": [{"filter": "datum.k === 'b'"}],
      "mark": {"type": "point", "shape": "M0,-1L1,1L-1,1Z", "filled": true, "fill": "#27ae60", "stroke": "#000000", "strokeWidth": 2, "size": 340, "opacity": 1},
      "encoding": {}
    },
    {
      "data": {"name": "sig"},
      "transform": [{"filter": "datum.k === 'x'"}],
      "mark": {"type": "point", "shape": "M-1,-1L1,1M1,-1L-1,1", "filled": false, "stroke": "#c0392b", "strokeWidth": 3.5, "size": 330, "opacity": 1},
      "encoding": {}
    },
    {
      "data": {"name": "sig"},
      "transform": [{"filter": "datum.k === 's'"}],
      "mark": {"type": "point", "shape": "M0,1L1,-1L-1,-1Z", "filled": true, "fill": "#e74c3c", "stroke": "#000000", "strokeWidth": 2, "size": 340, "opacity": 1},
      "encoding": {}
    }
  ]
}
